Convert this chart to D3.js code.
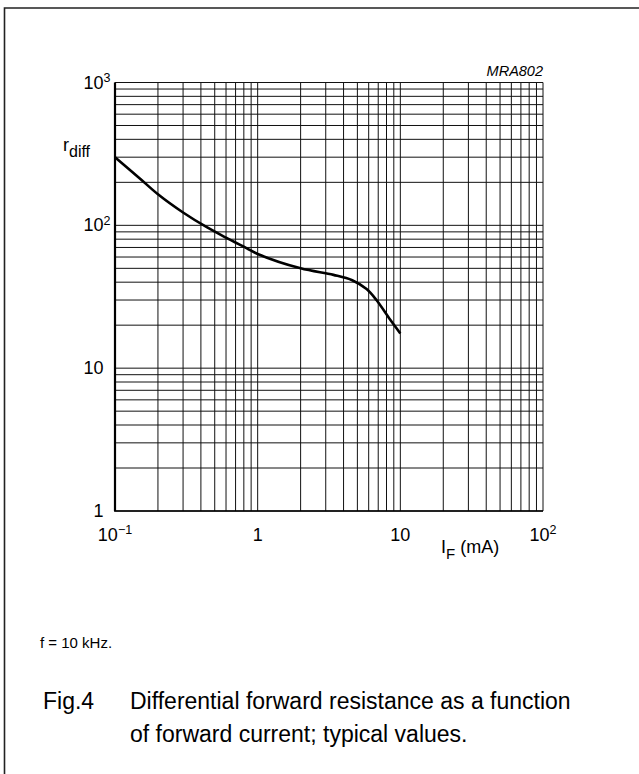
<!DOCTYPE html>
<html>
<head>
<meta charset="utf-8">
<script src="https://cdn.jsdelivr.net/npm/d3@7"></script>
<style>
  body { margin: 0; background: #fff; }
  svg { display: block; font-family: "Liberation Sans", Arial, sans-serif; }
</style>
</head>
<body>
<svg id="chart" width="639" height="774"></svg>
<script>
// forward current (mA) vs differential resistance (ohm)
var currentMA = [0.1, 0.15, 0.2, 0.3, 0.44, 0.6, 0.84, 1, 2, 3.4, 4.6, 5.8, 6.8, 8.5, 10];
var rDiff = [300, 212, 165, 123, 97, 82, 69, 63, 50, 45, 41.3, 35.8, 30, 21.8, 17.5];

var xTickLabels = [{v: 0.1, base: "10", sup: "\u22121"}, {v: 1, base: "1", sup: ""},
                   {v: 10, base: "10", sup: ""}, {v: 100, base: "10", sup: "2"}];
var yTickLabels = [{v: 1000, base: "10", sup: "3"}, {v: 100, base: "10", sup: "2"},
                   {v: 10, base: "10", sup: ""}, {v: 1, base: "1", sup: ""}];

(function(){
	var svg = d3.select("#chart");

	// outer frame (top + left only)
	svg.append("path")
		.attr("d", "M4.5,774 L4.5,8 L639,8")
		.attr("fill", "none")
		.attr("stroke", "#222")
		.attr("stroke-width", 1.6);

	var plotLeft = 115, plotRight = 543, plotTop = 82.5, plotBottom = 511;

	var x = d3.scaleLog().domain([0.1, 100]).range([plotLeft, plotRight]);
	var y = d3.scaleLog().domain([1, 1000]).range([plotBottom, plotTop]);

	// grid lines: 1..9 in every decade
	function gridValues(lo, hi) {
		var vals = [];
		for (var d = lo; d < hi * 0.99; d *= 10) {
			for (var k = 1; k <= 9; k++) vals.push(d * k);
		}
		vals.push(hi);
		return vals;
	}

	var grid = svg.append("g").attr("stroke", "#111").attr("stroke-width", 1);

	grid.selectAll("line.vx")
		.data(gridValues(0.1, 100))
		.enter().append("line")
		.attr("x1", function(d){ return x(d); })
		.attr("x2", function(d){ return x(d); })
		.attr("y1", plotTop)
		.attr("y2", plotBottom);

	grid.selectAll("line.hy")
		.data(gridValues(1, 1000))
		.enter().append("line")
		.attr("x1", plotLeft)
		.attr("x2", plotRight)
		.attr("y1", function(d){ return y(d); })
		.attr("y2", function(d){ return y(d); });

	// heavier left and bottom axis
	svg.append("line")
		.attr("x1", plotLeft).attr("x2", plotLeft)
		.attr("y1", plotTop).attr("y2", plotBottom)
		.attr("stroke", "#000").attr("stroke-width", 2.2);
	svg.append("line")
		.attr("x1", plotLeft - 1).attr("x2", plotRight)
		.attr("y1", plotBottom).attr("y2", plotBottom)
		.attr("stroke", "#000").attr("stroke-width", 1.6);

	// curve
	var line = d3.line()
		.x(function(d){ return x(d[0]); })
		.y(function(d){ return y(d[1]); })
		.curve(d3.curveCatmullRom.alpha(0.5));

	svg.append("path")
		.datum(d3.zip(currentMA, rDiff))
		.attr("d", line)
		.attr("fill", "none")
		.attr("stroke", "#000")
		.attr("stroke-width", 2.6)
		.attr("stroke-linejoin", "round");

	// y tick labels
	yTickLabels.forEach(function(t){
		svg.append("text")
			.attr("x", 103.5)
			.attr("y", y(t.v) + 6)
			.attr("text-anchor", "end")
			.attr("font-size", 18)
			.text(t.base);
		if (t.sup) {
			svg.append("text")
				.attr("x", 103.5)
				.attr("y", y(t.v) - 0.5)
				.attr("font-size", 12.5)
				.text(t.sup);
		}
	});

	// x tick labels
	xTickLabels.forEach(function(t){
		var txt = svg.append("text")
			.attr("x", x(t.v))
			.attr("y", 541)
			.attr("text-anchor", "middle")
			.attr("font-size", 18);
		txt.append("tspan").text(t.base);
		if (t.sup) {
			txt.append("tspan").attr("font-size", 12.5).attr("dy", -7).text(t.sup);
		}
	});

	// axis titles
	var yt = svg.append("text").attr("x", 63).attr("y", 151).attr("font-size", 18);
	yt.append("tspan").text("r");
	yt.append("tspan").attr("font-size", 16).attr("dy", 6).text("diff");

	var xt = svg.append("text").attr("x", 441).attr("y", 553).attr("font-size", 18);
	xt.append("tspan").text("I");
	xt.append("tspan").attr("font-size", 15).attr("dy", 6).text("F");
	xt.append("tspan").attr("dy", -6).text(" (mA)");

	svg.append("text")
		.attr("x", plotRight).attr("y", 76)
		.attr("text-anchor", "end")
		.attr("font-size", 14.5)
		.attr("font-style", "italic")
		.text("MRA802");

	// notes and caption
	svg.append("text").attr("x", 40).attr("y", 648).attr("font-size", 15).text("f = 10 kHz.");

	svg.append("text").attr("x", 43).attr("y", 709).attr("font-size", 23).text("Fig.4");
	svg.append("text").attr("x", 130).attr("y", 709).attr("font-size", 23)
		.text("Differential forward resistance as a function");
	svg.append("text").attr("x", 130).attr("y", 742).attr("font-size", 23)
		.text("of forward current; typical values.");
})();
</script>
</body>
</html>
